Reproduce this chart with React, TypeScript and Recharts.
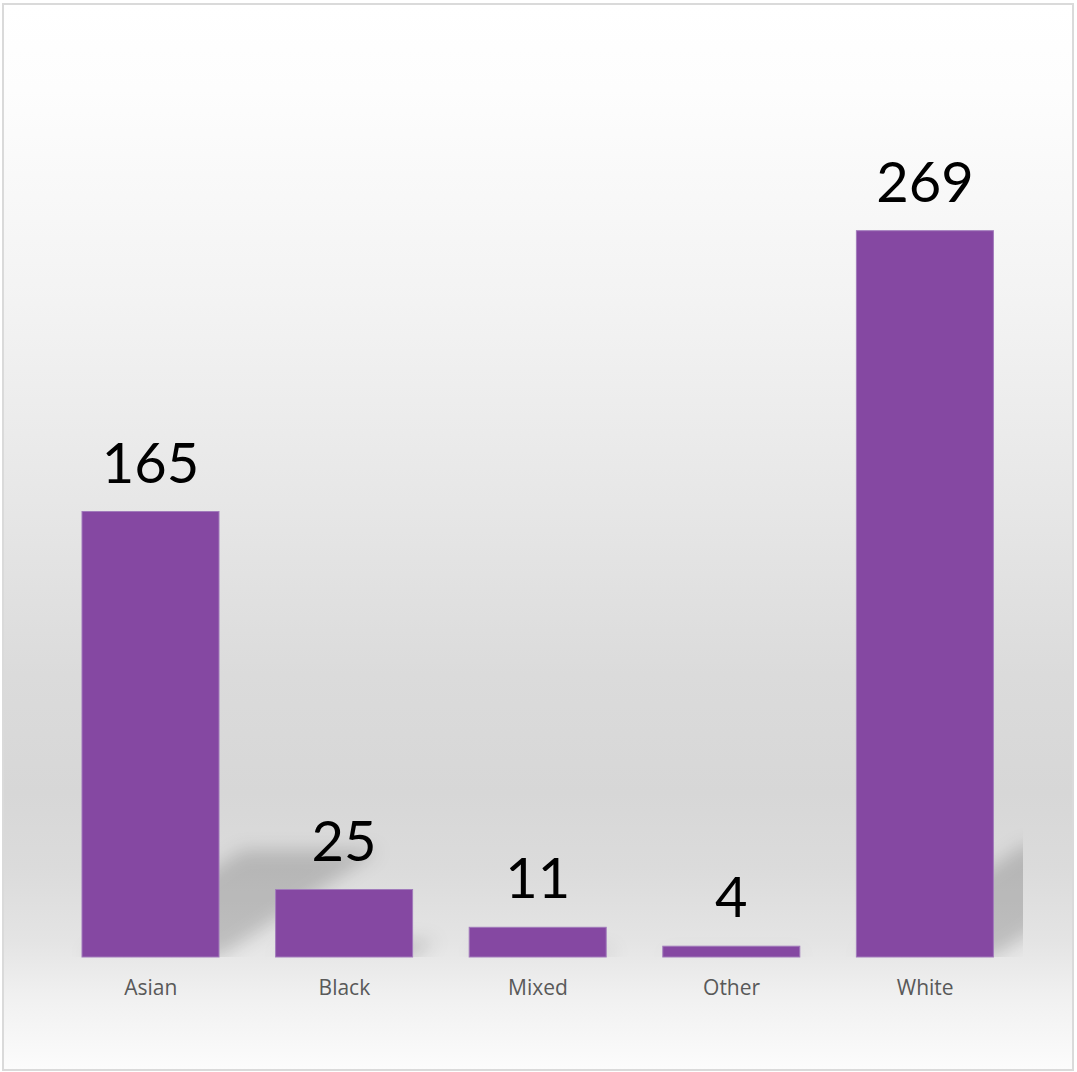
import React from "react";
import { Bar, BarChart, LabelList, XAxis, YAxis } from "recharts";

// counts per ethnic group
const categories = ["Asian", "Black", "Mixed", "Other", "White"];
const counts = [165, 25, 11, 4, 269];

const data = categories.map((name, i) => ({ name, count: counts[i] }));

const W = 1077;
const H = 1072;
const MARGIN = { top: 147, right: 55, bottom: 55, left: 54 };
const AXIS_H = 60;
const BAR_COLOR = "#8548a2";

const plotRight = W - MARGIN.right + 1;
const plotBottom = H - MARGIN.bottom - AXIS_H;

// Bar with a skewed "floor" shadow behind it (perspective shadow look).
function ShadowBar(props: any) {
  const { x, y, width, height, fill } = props;
  const base = y + height;
  const rise = Math.min(height * 0.24, 112);
  const skew = rise * 1.5;
  const pts = [
    [x, base],
    [x + width, base],
    [x + width + skew, base - rise],
    [x + skew, base - rise],
  ]
    .map((p) => p.join(","))
    .join(" ");
  return (
    <g>
      <g clipPath="url(#plotClip)">
        <polygon
          points={pts}
          fill="#000"
          fillOpacity={0.17}
          filter="url(#shadowBlur)"
        />
      </g>
      <rect
        x={x}
        y={y}
        width={width}
        height={height}
        fill={fill}
        stroke="#a17bbb"
        strokeWidth={1}
      />
    </g>
  );
}

function ValueLabel(props: any) {
  const { x, y, width, value } = props;
  return (
    <text
      x={x + width / 2}
      y={y - 29}
      textAnchor="middle"
      fontFamily="Lato, 'Open Sans', sans-serif"
      fontSize={56}
      fill="#000"
    >
      {value}
    </text>
  );
}

function CategoryTick(props: any) {
  const { x, y, payload } = props;
  return (
    <text
      x={x}
      y={y + 38}
      textAnchor="middle"
      fontFamily="'Open Sans', sans-serif"
      fontSize={21}
      fill="#595959"
    >
      {payload.value}
    </text>
  );
}

export default function App() {
  return (
    <div style={{ position: "relative", width: W, height: H }}>
      <style>{"body{margin:0}"}</style>
      <div
        style={{
          position: "absolute",
          left: 2,
          top: 3,
          width: W - 5,
          height: H - 4,
          boxSizing: "border-box",
          border: "2px solid #dadada",
          background:
            "linear-gradient(to bottom, #ffffff 0%, #fdfdfd 8%, #f3f3f3 28%, #e6e6e6 48%, #dbdbdb 63%, #d7d7d7 74%, #dbdbdb 81%, #e4e4e4 88%, #f0f0f0 93%, #fcfcfc 100%)",
        }}
      />
      <div style={{ position: "absolute", left: 0, top: 0 }}>
        <BarChart width={W} height={H} data={data} margin={MARGIN}>
          <defs>
            <filter
              id="shadowBlur"
              filterUnits="userSpaceOnUse"
              x={0}
              y={0}
              width={W}
              height={H}
            >
              <feGaussianBlur stdDeviation={9} />
            </filter>
            <clipPath id="plotClip">
              <rect x={0} y={0} width={plotRight} height={plotBottom} />
            </clipPath>
          </defs>
          <XAxis
            dataKey="name"
            height={AXIS_H}
            axisLine={false}
            tickLine={false}
            tickSize={0}
            tickMargin={0}
            interval={0}
            tick={<CategoryTick />}
          />
          <YAxis hide domain={[0, 300]} />
          <Bar
            dataKey="count"
            fill={BAR_COLOR}
            barSize={137}
            shape={<ShadowBar />}
            isAnimationActive={false}
          >
            <LabelList dataKey="count" content={<ValueLabel />} />
          </Bar>
        </BarChart>
      </div>
    </div>
  );
}
